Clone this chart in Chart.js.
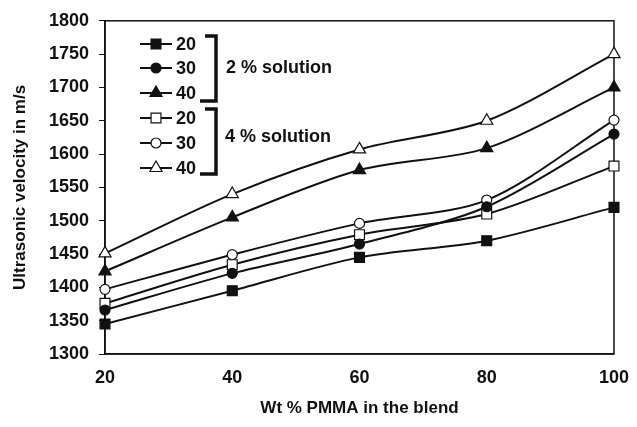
<!DOCTYPE html>
<html>
<head>
<meta charset="utf-8">
<script src="https://cdn.jsdelivr.net/npm/chart.js@4"></script>
<style>
  html, body { margin: 0; padding: 0; background: #fff; }
  #wrap { width: 637px; height: 427px; position: relative; }
</style>
</head>
<body>
<div id="wrap"><canvas id="chart"></canvas></div>
<script>
var xValues = [20, 40, 60, 80, 100];
var yTicks = [1300, 1350, 1400, 1450, 1500, 1550, 1600, 1650, 1700, 1750, 1800];

// 2 % solution
var sol2_20 = [1345, 1395, 1445, 1470, 1520];
var sol2_30 = [1366, 1421, 1465, 1521, 1630];
var sol2_40 = [1424, 1505, 1576, 1609, 1700];
// 4 % solution
var sol4_20 = [1376, 1434, 1479, 1510, 1582];
var sol4_30 = [1397, 1449, 1496, 1531, 1651];
var sol4_40 = [1451, 1540, 1607, 1650, 1750];

var seriesLabels = ['20', '30', '40', '20', '30', '40'];
var groupLabels = ['2 % solution', '4 % solution'];

var FONT = '"Liberation Sans", Arial, sans-serif';

function pts(arr) {
    return arr.map(function(v, i) { return { x: xValues[i], y: v }; });
}

function makeSet(label, values, style, filled, radius) {
    return {
        label: label,
        data: pts(values),
        borderColor: '#111',
        borderWidth: 2,
        tension: 0.3,
        fill: false,
        clip: false,
        pointStyle: style,
        pointRadius: radius,
        pointHoverRadius: radius,
        pointBackgroundColor: filled ? '#111' : '#fff',
        pointBorderColor: '#111',
        pointBorderWidth: 1.2
    };
}

var datasets = [
    makeSet('20', sol2_20, 'rect', true, 7),
    makeSet('30', sol2_30, 'circle', true, 5),
    makeSet('40', sol2_40, 'triangle', true, 7),
    makeSet('20', sol4_20, 'rect', false, 7),
    makeSet('30', sol4_30, 'circle', false, 5),
    makeSet('40', sol4_40, 'triangle', false, 7)
];

// legend with brackets, drawn on the canvas
var bracketLegend = {
    id: 'bracketLegend',
    afterDraw: function(chart) {
        var ctx = chart.ctx;
        var rowY = [44, 68, 93, 118, 143, 168];
        ctx.save();
        for (var i = 0; i < datasets.length; i++) {
            var ds = datasets[i];
            var y = rowY[i];
            ctx.strokeStyle = '#111';
            ctx.lineWidth = 2;
            ctx.beginPath();
            ctx.moveTo(140, y);
            ctx.lineTo(172, y);
            ctx.stroke();
            ctx.fillStyle = ds.pointBackgroundColor;
            ctx.strokeStyle = '#111';
            ctx.lineWidth = 1.2;
            Chart.helpers.drawPoint(ctx, {
                pointStyle: ds.pointStyle,
                radius: ds.pointRadius,
                borderWidth: 1.2,
                rotation: 0
            }, 156, y);
            ctx.fillStyle = '#111';
            ctx.font = 'bold 18px ' + FONT;
            ctx.textBaseline = 'middle';
            ctx.textAlign = 'left';
            ctx.fillText(seriesLabels[i], 176, y + 1);
        }
        // brackets
        ctx.strokeStyle = '#111';
        ctx.lineWidth = 3.5;
        ctx.beginPath();
        ctx.moveTo(205, 36); ctx.lineTo(216, 36); ctx.lineTo(216, 101); ctx.lineTo(200, 101);
        ctx.moveTo(205, 109); ctx.lineTo(216, 109); ctx.lineTo(216, 174); ctx.lineTo(200, 174);
        ctx.stroke();
        ctx.font = 'bold 18px ' + FONT;
        ctx.fillText(groupLabels[0], 226, 68);
        ctx.fillText(groupLabels[1], 225, 137);
        ctx.restore();
    }
};

// box around the plot area
var frame = {
    id: 'frame',
    beforeDatasetsDraw: function(chart) {
        var a = chart.chartArea, ctx = chart.ctx;
        ctx.save();
        ctx.strokeStyle = '#111';
        ctx.lineWidth = 1.5;
        ctx.strokeRect(a.left, a.top, a.right - a.left, a.bottom - a.top);
        ctx.restore();
    }
};

new Chart(document.getElementById('chart'), {
    type: 'line',
    data: { datasets: datasets },
    plugins: [frame, bracketLegend],
    options: {
        responsive: true,
        maintainAspectRatio: false,
        animation: false,
        events: [],
        layout: { padding: { top: 17, right: 18, left: 0, bottom: 0 } },
        plugins: { legend: { display: false }, tooltip: { enabled: false } },
        scales: {
            x: {
                type: 'linear',
                min: 20, max: 100,
                afterBuildTicks: function(s) { s.ticks = xValues.map(function(v) { return { value: v }; }); },
                afterFit: function(s) { s.height = 73; },
                grid: { display: false, drawOnChartArea: false, drawTicks: true, tickLength: 5, color: '#111', tickColor: '#111' },
                border: { display: true, color: '#111', width: 1.5 },
                ticks: { color: '#111', padding: 8, font: { family: FONT, size: 18, weight: 'bold' },
                         callback: function(v) { return String(v); } },
                title: { display: true, text: 'Wt % PMMA in the blend', color: '#111',
                         padding: { top: 0, bottom: 8 },
                         font: { family: FONT, size: 17, weight: 'bold' } }
            },
            y: {
                min: 1300, max: 1800,
                afterBuildTicks: function(s) { s.ticks = yTicks.map(function(v) { return { value: v }; }); },
                afterFit: function(s) { s.width = 105; },
                grid: { display: true, drawOnChartArea: false, drawTicks: true, tickLength: 6, tickColor: '#111' },
                border: { display: true, color: '#111', width: 1.5 },
                ticks: { color: '#111', padding: 10, font: { family: FONT, size: 18, weight: 'bold' },
                         callback: function(v) { return String(v); } },
                title: { display: true, text: 'Ultrasonic velocity in m/s', color: '#111',
                         padding: { top: 10, bottom: 0 },
                         font: { family: FONT, size: 17, weight: 'bold' } }
            }
        }
    }
});
</script>
</body>
</html>
